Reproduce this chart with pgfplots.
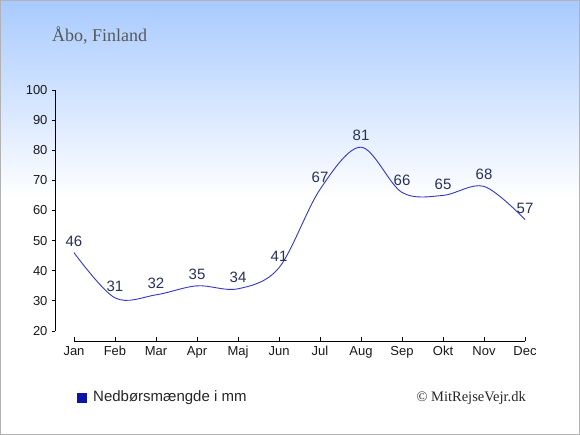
\documentclass[border=0pt]{standalone}
\usepackage{pgfplots}
\pgfplotsset{compat=1.18}
\usepackage{fontspec}
\setmainfont{Liberation Sans}
\newfontfamily\seriffont{Liberation Serif}
\definecolor{bgtop}{RGB}{168,202,255}
\definecolor{linecol}{RGB}{50,55,200}
\definecolor{labcol}{RGB}{40,50,85}
\definecolor{legcol}{RGB}{10,20,170}
\begin{document}
\begin{tikzpicture}[x=1pt,y=1pt]
\fill[white] (0,0) rectangle (580,435);
\shade[top color=bgtop, bottom color=white] (0,237) rectangle (580,435);
\draw[gray!60, line width=1pt] (0.5,0.5) rectangle (579.5,434.5);
\node[anchor=base west, font=\seriffont\fontsize{18}{20}\selectfont, text=black!65, inner sep=0] at (52,393) {Åbo, Finland};
% data axis with y axis
\begin{axis}[at={(55pt,104pt)}, anchor=south west, scale only axis,
  width=470pt, height=241pt,
  xmin=-0.4634, xmax=11, ymin=20, ymax=100,
  axis y line=left, axis x line=none,
  y axis line style={-, black, line width=0.9pt},
  ytick={20,30,...,100},
  tick align=outside, major tick length=3pt,
  tick style={black, line width=0.9pt},
  yticklabel style={font=\fontsize{13}{15}\selectfont, text=black!90, xshift=-1pt},
  /pgf/number format/assume math mode=true,
  clip=false,
  nodes near coords,
  every node near coord/.append style={font=\fontsize{15}{17}\selectfont, text=labcol, anchor=south, yshift=2.5pt},
]
\addplot[linecol, line width=0.9pt, smooth, tension=0.55, mark=none] coordinates {
(0,46) (1,31) (2,32) (3,35) (4,34) (5,41) (6,67) (7,81) (8,66) (9,65) (10,68) (11,57)};
\end{axis}
% x axis
\begin{axis}[at={(74pt,94pt)}, anchor=south west, scale only axis,
  width=451pt, height=50pt,
  xmin=0, xmax=11, ymin=0, ymax=1,
  axis x line=bottom, axis y line=none,
  x axis line style={-, black, line width=0.9pt},
  xtick={0,...,11},
  xticklabels={Jan,Feb,Mar,Apr,Maj,Jun,Jul,Aug,Sep,Okt,Nov,Dec},
  tick align=inside, major tick length=3.5pt,
  tick style={black, line width=0.9pt},
  xticklabel style={font=\fontsize{13}{15}\selectfont, text=black!90, yshift=-2pt},
]
\addplot[draw=none] coordinates {(0,0)};
\end{axis}
\fill[legcol] (77,32) rectangle (87,42);
\node[anchor=west, font=\fontsize{15}{17}\selectfont, text=black!85, inner sep=0] at (93,37) {Nedbørsmængde i mm};
\node[anchor=east, font=\seriffont\fontsize{14.5}{16}\selectfont, text=black!85, inner sep=0] at (526,37) {© MitRejseVejr.dk};
\pgfresetboundingbox
\useasboundingbox (0,0) rectangle (580,435);
\end{tikzpicture}
\end{document}
